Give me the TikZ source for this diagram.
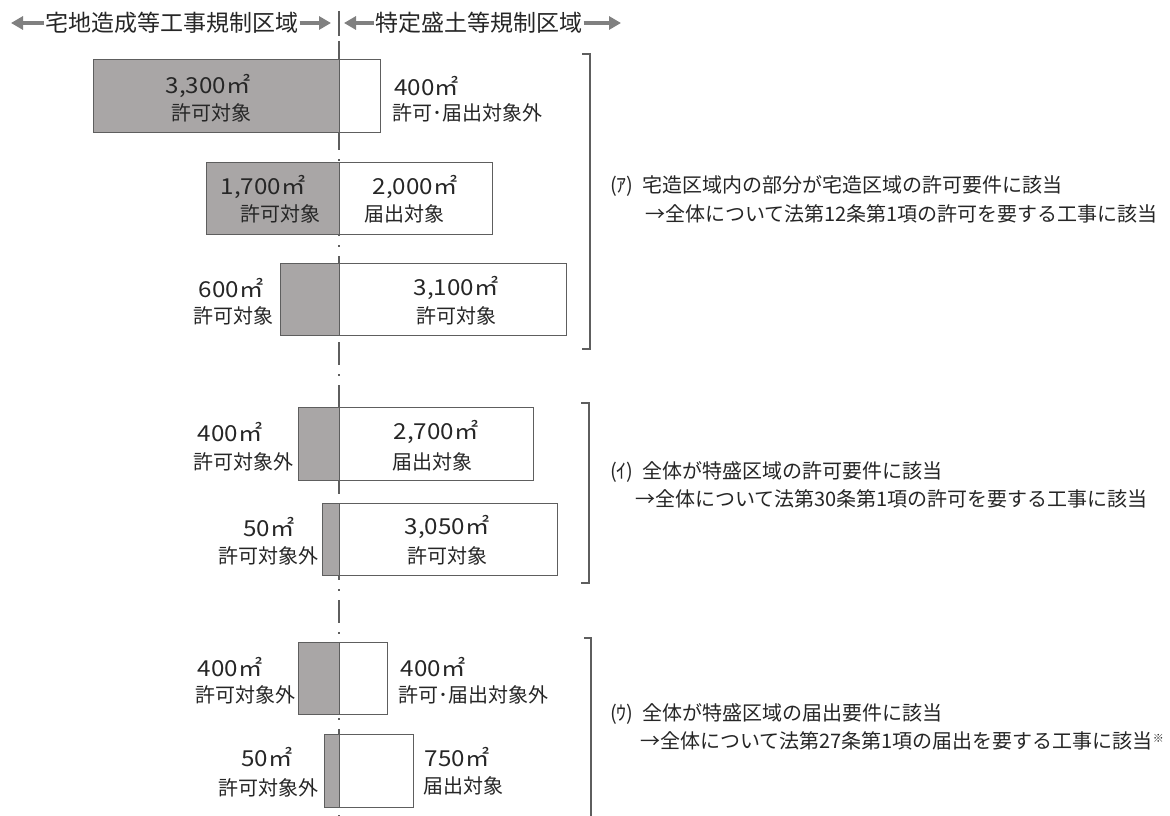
\documentclass[tikz,border=0pt]{standalone}
\usepackage{fontspec}
\setmainfont{Noto Sans CJK JP}
\newfontfamily\numfont{Noto Sans CJK JP}[FakeStretch=1.1]
\usetikzlibrary{arrows.meta}
\definecolor{txt}{HTML}{262626}
\definecolor{boxgray}{HTML}{A9A6A6}
\definecolor{edge}{HTML}{5E5E5E}
\definecolor{arr}{HTML}{808080}
\tikzset{
  lbl/.style={font=\fontsize{20}{20}\selectfont, text=txt, inner sep=0pt},
  num/.style={font=\numfont\fontsize{22}{22}\selectfont, text=txt, inner sep=0pt},
  note/.style={font=\fontsize{20}{20}\selectfont, text=txt, inner sep=0pt, anchor=west},
  hdr/.style={font=\fontsize{23}{23}\selectfont, text=txt, inner sep=0pt},
  harrow/.style={draw=arr, line width=4pt, -{Triangle[length=12pt,width=13pt]}},
  graybox/.style={draw=edge, line width=1.4pt, fill=boxgray},
  whitebox/.style={draw=edge, line width=1.4pt, fill=white},
  bracket/.style={draw=edge, line width=1.8pt},
  divline/.style={draw=edge, line width=1.5pt, dash pattern=on 23pt off 9pt on 2pt off 9pt},
}
\begin{document}
\begin{tikzpicture}[x=1pt,y=-1pt]
\useasboundingbox (0,0) rectangle (1170,816);
\fill[white] (0,0) rectangle (1170,816);

% header
\node[hdr] (hL) at (172,23) {宅地造成等工事規制区域};
\node[hdr] (hR) at (479,23) {特定盛土等規制区域};
\coordinate (aL1) at (11,23);
\coordinate (aL2) at (331,23);
\coordinate (aR1) at (344,23);
\coordinate (aR2) at (621,23);
\draw[harrow] ([xshift=-1pt]hL.west) -- (aL1);
\draw[harrow] ([xshift=1pt]hL.east) -- (aL2);
\draw[harrow] ([xshift=-1pt]hR.west) -- (aR1);
\draw[harrow] ([xshift=1pt]hR.east) -- (aR2);
\draw[edge, line width=1.8pt] (339,11) -- (339,36);

% divider
\draw[divline] (339,41) -- (339,816);

% boxes
\node[graybox, anchor=north west, minimum width=246pt, minimum height=73pt] (g1) at (93,59) {};
\node[whitebox, anchor=north west, minimum width=41pt, minimum height=73pt] (w1) at (339,59) {};
\node[graybox, anchor=north west, minimum width=133pt, minimum height=72pt] (g2) at (206,162) {};
\node[whitebox, anchor=north west, minimum width=153pt, minimum height=72pt] (w2) at (339,162) {};
\node[graybox, anchor=north west, minimum width=59pt, minimum height=72pt] (g3) at (280,263) {};
\node[whitebox, anchor=north west, minimum width=227pt, minimum height=72pt] (w3) at (339,263) {};
\node[graybox, anchor=north west, minimum width=41pt, minimum height=73pt] (g4) at (298,407) {};
\node[whitebox, anchor=north west, minimum width=194pt, minimum height=73pt] (w4) at (339,407) {};
\node[graybox, anchor=north west, minimum width=17pt, minimum height=72pt] (g5) at (322,503) {};
\node[whitebox, anchor=north west, minimum width=218pt, minimum height=72pt] (w5) at (339,503) {};
\node[graybox, anchor=north west, minimum width=41pt, minimum height=72pt] (g6) at (298,642) {};
\node[whitebox, anchor=north west, minimum width=48pt, minimum height=72pt] (w6) at (339,642) {};
\node[graybox, anchor=north west, minimum width=15pt, minimum height=73pt] (g7) at (324,734) {};
\node[whitebox, anchor=north west, minimum width=74pt, minimum height=73pt] (w7) at (339,734) {};

% labels box 1
\node[num] (n1a) at (208,86) {3,300㎡};
\node[lbl] (l1a) at (211,113) {許可対象};
\node[num, anchor=west] (n1b) at (394,86) {400㎡};
\node[lbl, anchor=west] (l1b) at (392,113) {許可･届出対象外};
% box 2
\node[num] (n2a) at (263,187) {1,700㎡};
\node[lbl] (l2a) at (280,214) {許可対象};
\node[num] (n2b) at (415,187) {2,000㎡};
\node[lbl] (l2b) at (404,214) {届出対象};
% box 3
\node[num] (n3a) at (231,288) {600㎡};
\node[lbl] (l3a) at (233,316) {許可対象};
\node[num] (n3b) at (456,288) {3,100㎡};
\node[lbl] (l3b) at (456,316) {許可対象};
% box 4
\node[num] (n4a) at (230,432) {400㎡};
\node[lbl] (l4a) at (243,462) {許可対象外};
\node[num] (n4b) at (436,432) {2,700㎡};
\node[lbl] (l4b) at (432,462) {届出対象};
% box 5
\node[num] (n5a) at (269,527) {50㎡};
\node[lbl] (l5a) at (268,556) {許可対象外};
\node[num] (n5b) at (447,527) {3,050㎡};
\node[lbl] (l5b) at (447,556) {許可対象};
% box 6
\node[num] (n6a) at (230,667) {400㎡};
\node[lbl] (l6a) at (245,695) {許可対象外};
\node[num] (n6b) at (433,667) {400㎡};
\node[lbl] (l6b) at (473,695) {許可･届出対象外};
% box 7
\node[num] (n7a) at (267,757) {50㎡};
\node[lbl] (l7a) at (268,788) {許可対象外};
\node[num] (n7b) at (457,757) {750㎡};
\node[lbl] (l7b) at (463,786) {届出対象};

% brackets
\draw[bracket] (582,54) -- (590,54) -- (590,349) -- (582,349);
\draw[bracket] (581,403) -- (589,403) -- (589,583) -- (581,583);
\draw[bracket] (584,638) -- (591,638) -- (591,820);

% notes
\node[note] (t1a) at (610,186) {(ｱ)\hspace{9pt}宅造区域内の部分が宅造区域の許可要件に該当};
\node[note] (t1b) at (645,214) {→全体について法第12条第1項の許可を要する工事に該当};
\node[note] (t2a) at (610,472) {(ｲ)\hspace{9pt}全体が特盛区域の許可要件に該当};
\node[note] (t2b) at (635,499) {→全体について法第30条第1項の許可を要する工事に該当};
\node[note] (t3a) at (610,714) {(ｳ)\hspace{9pt}全体が特盛区域の届出要件に該当};
\node[note] (t3b) at (640,741) {→全体について法第27条第1項の届出を要する工事に該当\raisebox{6pt}{\fontsize{11}{11}\selectfont ※}};
\end{tikzpicture}
\end{document}
